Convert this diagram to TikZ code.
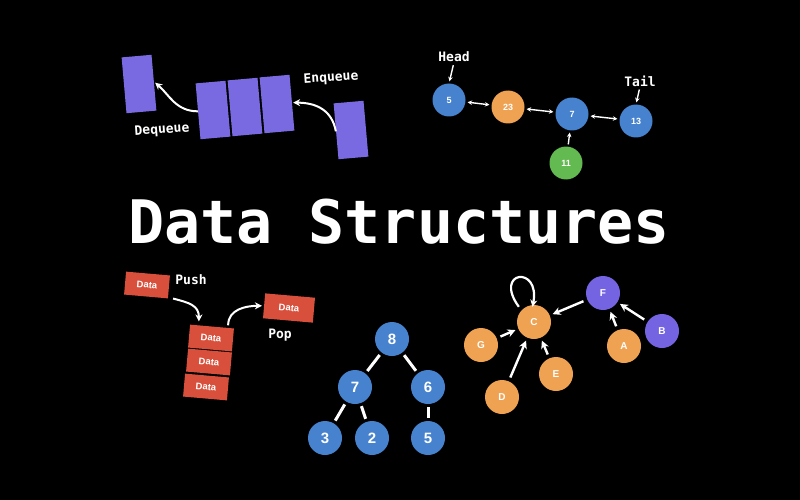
\documentclass[tikz,border=0pt]{standalone}
\usepackage{fontspec}
\usetikzlibrary{arrows.meta,calc}
\newfontfamily\monof{DejaVu Sans Mono}
\newfontfamily\lsans{Liberation Sans}
\definecolor{blueN}{RGB}{70,130,205}
\definecolor{orangeN}{RGB}{238,162,82}
\definecolor{greenN}{RGB}{99,186,80}
\definecolor{purpleQ}{RGB}{122,106,226}
\definecolor{purpleN}{RGB}{116,100,226}
\definecolor{redD}{RGB}{216,80,60}
\tikzset{
  qbox/.style={fill=purpleQ, draw=none, minimum width=30pt, minimum height=56pt, inner sep=0pt, rotate=5},
  dbox/.style={fill=redD, draw=none, minimum width=44pt, minimum height=23pt, inner sep=0pt, rotate=-5, text=white, font=\lsans\bfseries\fontsize{9.5}{10}\selectfont},
  lbl/.style={text=white, font=\monof\bfseries\fontsize{13}{13}\selectfont, inner sep=0pt},
  lnode/.style={circle, minimum size=33pt, inner sep=0pt, text=white, font=\lsans\bfseries\fontsize{9}{9}\selectfont},
  tnode/.style={circle, fill=blueN, minimum size=34pt, inner sep=0pt, text=white, font=\lsans\bfseries\fontsize{15}{15}\selectfont},
  gnode/.style={circle, minimum size=34pt, inner sep=0pt, text=white, font=\lsans\bfseries\fontsize{10}{10}\selectfont},
  warr/.style={draw=white, line width=2pt, -{Stealth[length=7pt,width=7pt]}},
  larr/.style={draw=white, line width=1.4pt, {Stealth[length=4.5pt,width=4.5pt]}-{Stealth[length=4.5pt,width=4.5pt]}, shorten <=2pt, shorten >=2pt},
  sarr/.style={draw=white, line width=1.4pt, -{Stealth[length=4.5pt,width=4.5pt]}},
  tedge/.style={draw=white, line width=3pt, shorten <=3pt, shorten >=3pt},
  garr/.style={draw=white, line width=2.4pt, -{Stealth[length=8pt,width=8pt]}, shorten <=4pt, shorten >=3pt},
}
\begin{document}
\begin{tikzpicture}[x=1pt,y=-1pt]
\fill[black] (0,0) rectangle (800,500);
\useasboundingbox (0,0) rectangle (800,500);

% ---------- Queue ----------
\node[qbox] (qout) at (139,84) {};
\node[qbox] (q1) at (213,110) {};
\node[qbox] (q2) at (245,107) {};
\node[qbox] (q3) at (277,104) {};
\node[qbox] (qin) at (351,130) {};
\node[lbl, rotate=4] (enq) at (331,78) {Enqueue};
\node[lbl, rotate=4] (deq) at (162,130) {Dequeue};
\draw[warr] (qin.west) .. controls +(-4,-22) and +(22,0) .. ([xshift=1pt]q3.east);
\draw[warr] (q1.west) .. controls +(-22,0) and +(14,12) .. ([xshift=1pt]qout.east);

% ---------- Linked list ----------
\node[lnode, fill=blueN] (n5) at (449,100) {5};
\node[lnode, fill=orangeN] (n23) at (508,107) {23};
\node[lnode, fill=blueN] (n7) at (572,114) {7};
\node[lnode, fill=blueN] (n13) at (636,121) {13};
\node[lnode, fill=greenN] (n11) at (566,163) {11};
\node[lbl] (head) at (454,57) {Head};
\node[lbl] (tail) at (640,81) {Tail};
\draw[larr] (n5) -- (n23);
\draw[larr] (n23) -- (n7);
\draw[larr] (n7) -- (n13);
\draw[sarr, shorten <=2pt, shorten >=2pt] (n11) -- (n7);
\draw[sarr, shorten <=3pt, shorten >=2pt] (head.south) -- (n5.north);
\draw[sarr, shorten <=3pt, shorten >=2pt] (tail.south) -- (n13.north);

% ---------- Title ----------
\node[text=white, font=\monof\bfseries\fontsize{60}{60}\selectfont, inner sep=0pt] (title) at (399,222) {Data Structures};

% ---------- Stack ----------
\node[dbox] (dpush) at (147,285) {Data};
\node[dbox] (s1) at (211,338) {Data};
\node[dbox] (s2) at (209,362) {Data};
\node[dbox] (s3) at (206,387) {Data};
\node[dbox, minimum width=50pt, minimum height=25pt] (dpop) at (289,308) {Data};
\node[lbl] (push) at (191,280) {Push};
\node[lbl] (pop) at (280,335) {Pop};
\draw[warr] ($(dpush.south east)+(5,0)$) .. controls +(16,4) and +(0,-16) .. ($(s1.north west)+(9,-3)$);
\draw[warr] ($(s1.north east)+(-6,-3)$) .. controls +(0,-16) and +(-16,0) .. ([xshift=-2pt]dpop.west);

% ---------- Tree ----------
\node[tnode] (t8) at (392,339) {8};
\node[tnode] (t7) at (355,387) {7};
\node[tnode] (t6) at (428,387) {6};
\node[tnode] (t3) at (325,438) {3};
\node[tnode] (t2) at (372,438) {2};
\node[tnode] (t5) at (428,438) {5};
\draw[tedge] (t8) -- (t7);
\draw[tedge] (t8) -- (t6);
\draw[tedge] (t7) -- (t3);
\draw[tedge] (t7) -- (t2);
\draw[tedge] (t6) -- (t5);

% ---------- Graph ----------
\node[gnode, fill=orangeN] (gC) at (534,322) {C};
\node[gnode, fill=orangeN] (gG) at (481,345) {G};
\node[gnode, fill=orangeN] (gD) at (502,397) {D};
\node[gnode, fill=orangeN] (gE) at (556,374) {E};
\node[gnode, fill=purpleN] (gF) at (603,293) {F};
\node[gnode, fill=orangeN] (gA) at (624,346) {A};
\node[gnode, fill=purpleN] (gB) at (662,331) {B};
\draw[garr] (gG) -- (gC);
\draw[garr] (gD) -- (gC);
\draw[garr] (gE) -- (gC);
\draw[garr] (gF) -- (gC);
\draw[garr] (gA) -- (gF);
\draw[garr] (gB) -- (gF);
\draw[draw=white, line width=2.2pt, -{Stealth[length=7pt,width=7pt]}] ([shift={(-3,-3)}]gC.135) .. controls +(-26,-36) and +(8,-42) .. ([yshift=-2pt]gC.95);
\end{tikzpicture}
\end{document}
